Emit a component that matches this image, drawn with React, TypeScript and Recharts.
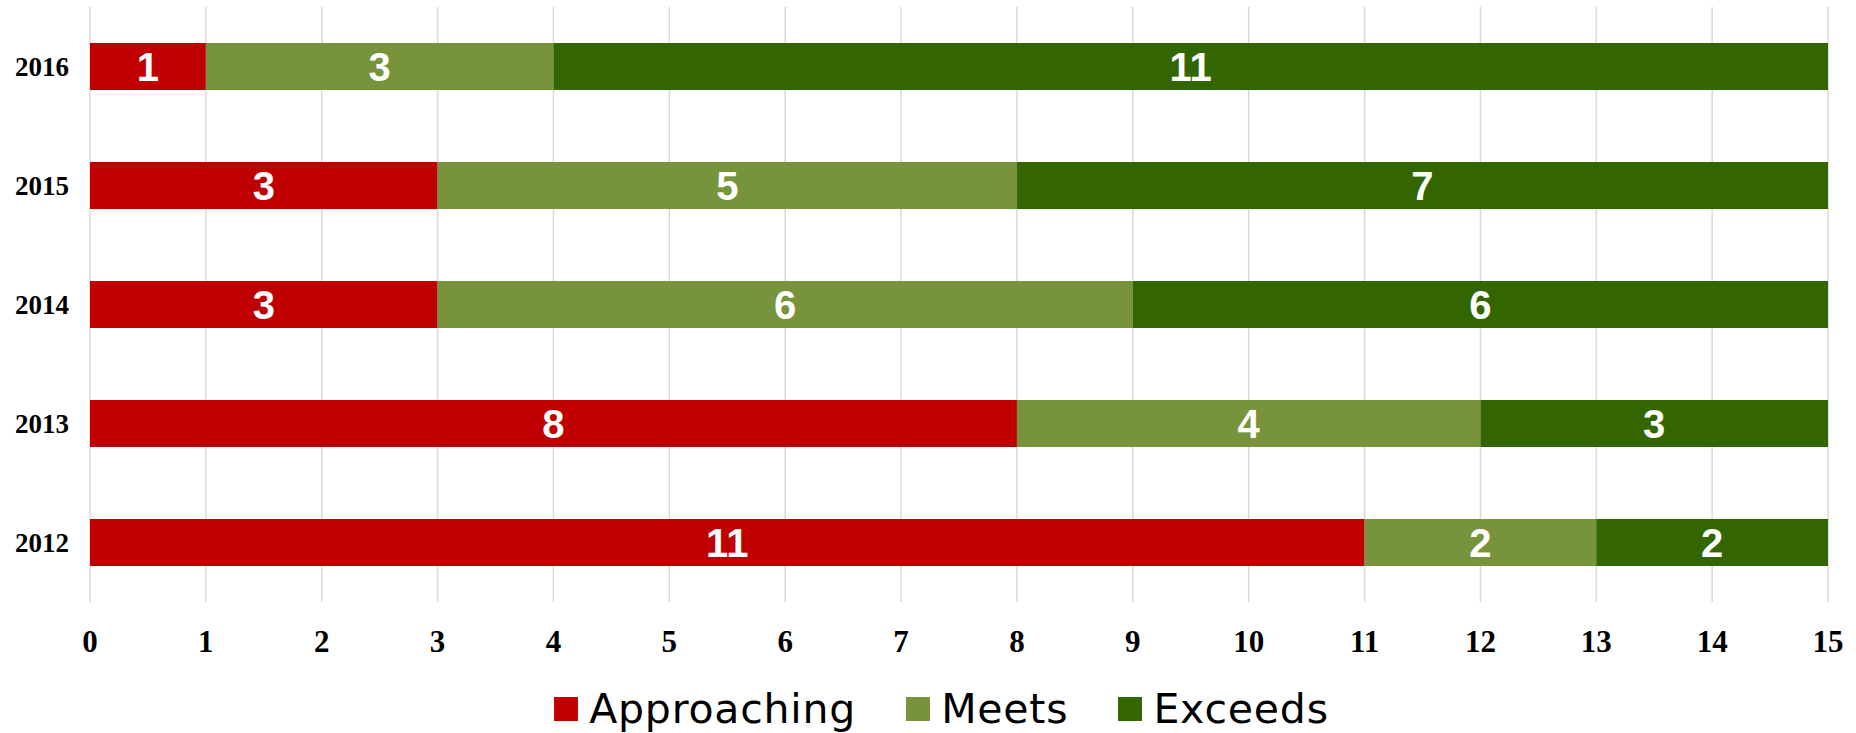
import { Bar, BarChart, CartesianGrid, LabelList, Legend, XAxis, YAxis } from "recharts"

const years = ["2012", "2013", "2014", "2015", "2016"]
const approaching = [11, 8, 3, 3, 1]
const meets = [2, 4, 6, 5, 3]
const exceeds = [2, 3, 6, 7, 11]
const xTicks = [0, 1, 2, 3, 4, 5, 6, 7, 8, 9, 10, 11, 12, 13, 14, 15]

const series = [
    { key: "approaching", name: "Approaching", color: "#C00000" },
    { key: "meets", name: "Meets", color: "#77933C" },
    { key: "exceeds", name: "Exceeds", color: "#336600" },
]

const data = years.map((year, i) => ({
    year,
    approaching: approaching[i],
    meets: meets[i],
    exceeds: exceeds[i],
}))

const renderLegend = () => (
    <div
        style={{
            height: 48,
            display: "flex",
            justifyContent: "center",
            alignItems: "center",
            gap: 50,
            fontFamily: "DejaVu Sans",
            fontSize: 41,
            letterSpacing: 0.8,
            color: "#000",
            paddingLeft: 55,
        }}
    >
        {series.map((s) => (
            <div key={s.key} style={{ display: "flex", alignItems: "center" }}>
                <span style={{ width: 24, height: 24, background: s.color, marginRight: 11 }} />
                <span>{s.name}</span>
            </div>
        ))}
    </div>
)

export default function App() {
    return (
        <div style={{ position: "absolute", left: 0, top: 0, background: "#fff" }}>
            <BarChart
                width={1856}
                height={733}
                data={data}
                layout="vertical"
                margin={{ top: 7, right: 28, bottom: 0, left: 0 }}
                barSize={47}
            >
                <CartesianGrid horizontal={false} stroke="#d9d9d9" strokeWidth={1.5} />
                <XAxis
                    type="number"
                    domain={[0, 15]}
                    ticks={xTicks}
                    interval={0}
                    height={83}
                    axisLine={false}
                    tickLine={false}
                    tickMargin={22}
                    tick={{ fill: "#000", fontFamily: "Liberation Serif", fontWeight: "bold", fontSize: 31 }}
                />
                <YAxis
                    type="category"
                    dataKey="year"
                    reversed
                    width={90}
                    axisLine={false}
                    tickLine={false}
                    tickMargin={15}
                    tick={{ fill: "#000", fontFamily: "Liberation Serif", fontWeight: "bold", fontSize: 27 }}
                />
                <Legend verticalAlign="bottom" content={renderLegend} />
                {series.map((s) => (
                    <Bar key={s.key} dataKey={s.key} name={s.name} stackId="a" fill={s.color} isAnimationActive={false}>
                        <LabelList
                            dataKey={s.key}
                            position="center"
                            fill="#fff"
                            style={{ fontFamily: "Liberation Sans", fontWeight: "bold", fontSize: 40 }}
                        />
                    </Bar>
                ))}
            </BarChart>
        </div>
    )
}
